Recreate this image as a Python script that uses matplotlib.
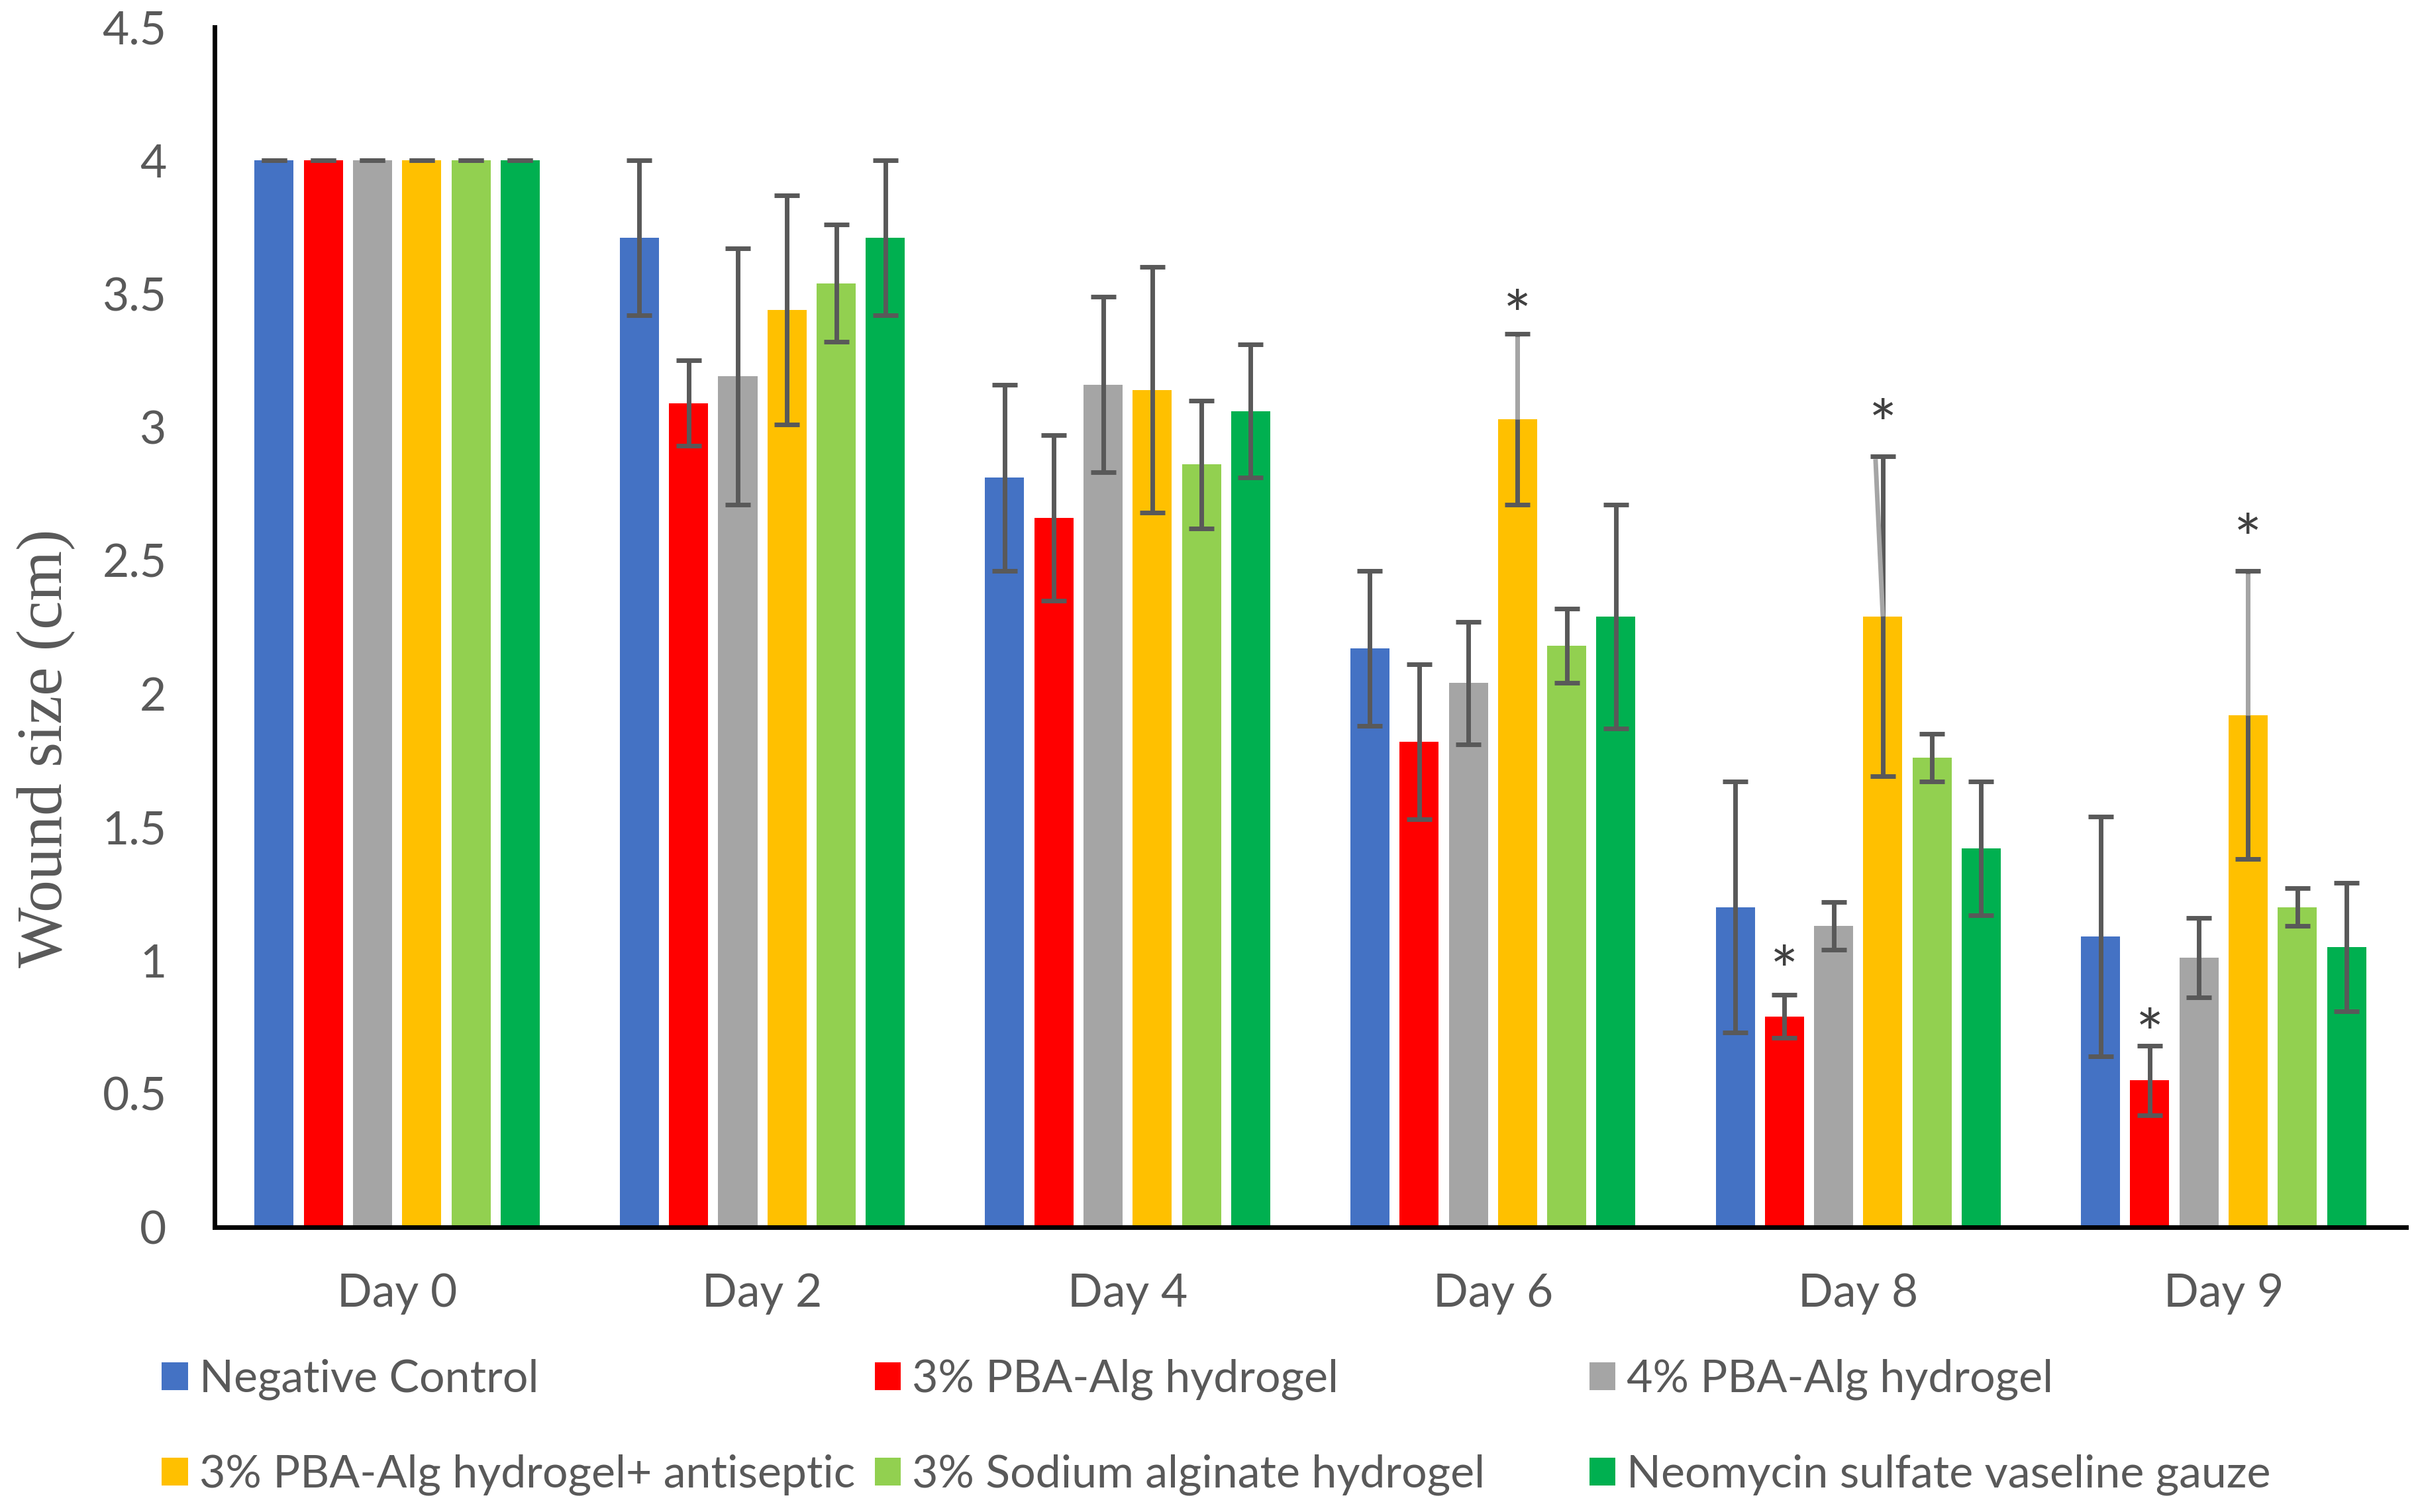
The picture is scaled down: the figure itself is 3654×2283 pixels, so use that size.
import numpy as np
import matplotlib.pyplot as plt
from matplotlib import transforms

plt.rcParams['font.family'] = ['Lato', 'DejaVu Sans']

days = ['Day 0', 'Day 2', 'Day 4', 'Day 6', 'Day 8', 'Day 9']
series = ['Negative Control', '3% PBA-Alg hydrogel', '4% PBA-Alg hydrogel',
          '3% PBA-Alg hydrogel+ antiseptic', '3% Sodium alginate hydrogel',
          'Neomycin sulfate vaseline gauze']
colors = ['#4472C4', '#FF0000', '#A5A5A5', '#FFC000', '#92D050', '#00B050']

neg_ctrl = [4.0, 3.71, 2.81, 2.17, 1.20, 1.09]
neg_ctrl_err = [0, 0.29, 0.35, 0.29, 0.47, 0.45]
pba3 = [4.0, 3.09, 2.66, 1.82, 0.79, 0.55]
pba3_err = [0, 0.16, 0.31, 0.29, 0.08, 0.13]
pba4 = [4.0, 3.19, 3.16, 2.04, 1.13, 1.01]
pba4_err = [0, 0.48, 0.33, 0.23, 0.09, 0.15]
pba3_anti = [4.0, 3.44, 3.14, 3.03, 2.29, 1.92]
pba3_anti_err = [0, 0.43, 0.46, 0.32, 0.60, 0.54]
sod_alg = [4.0, 3.54, 2.86, 2.18, 1.76, 1.20]
sod_alg_err = [0, 0.22, 0.24, 0.14, 0.09, 0.07]
neomycin = [4.0, 3.71, 3.06, 2.29, 1.42, 1.05]
neomycin_err = [0, 0.29, 0.25, 0.42, 0.25, 0.24]

values = [neg_ctrl, pba3, pba4, pba3_anti, sod_alg, neomycin]
errors = [neg_ctrl_err, pba3_err, pba4_err, pba3_anti_err, sod_alg_err, neomycin_err]

# significance stars: (day index, series index, height of star centre)
star_day = [3, 4, 4, 5, 5]
star_series = [3, 1, 3, 1, 3]
star_y = [3.48, 1.02, 3.07, 0.785, 2.64]

text_col = '#595959'
err_col = '#595959'

fig = plt.figure(figsize=(36.55, 22.83), dpi=100)
ax = fig.add_axes([0.0886, 0.1885, 0.9054, 0.7935])

pitch = 0.1347
width = 0.107
x = np.arange(len(days))
handles = []
for j in range(len(series)):
    xs = x + (j - 2.5) * pitch
    b = ax.bar(xs, values[j], width, color=colors[j], label=series[j], zorder=2)
    handles.append(b)
    ax.errorbar(xs, values[j], yerr=errors[j], fmt='none', ecolor=err_col,
                elinewidth=5, capsize=14, capthick=5, zorder=3)

# light grey strokes over the upper error bars of the starred yellow bars
for d, s in zip(star_day, star_series):
    if s != 3:
        continue
    xc = d + (s - 2.5) * pitch
    top = values[s][d] + errors[s][d]
    shift = -0.02 if d == 4 else 0
    ax.plot([xc, xc + shift], [values[s][d], top - 0.01], color='#A5A5A5',
            lw=5, zorder=4, solid_capstyle='butt')

star_fs = 72
star_tr = transforms.offset_copy(ax.transData, fig=fig, x=0, y=-0.6 * star_fs,
                                 units='points')
for d, s, yy in zip(star_day, star_series, star_y):
    ax.text(d + (s - 2.5) * pitch, yy, '*', ha='center', va='baseline',
            fontsize=star_fs, color='#404040', zorder=5, transform=star_tr)

ax.set_xlim(-0.5, 5.5)
ax.set_ylim(0, 4.5)
yt = np.arange(0, 4.51, 0.5)
ax.set_yticks(yt)
ax.set_yticklabels([f'{v:g}' for v in yt])
ax.set_xticks(x)
ax.set_xticklabels(days)
ax.tick_params(axis='both', length=0, labelsize=50, labelcolor=text_col)
ax.tick_params(axis='y', pad=52)
ax.tick_params(axis='x', pad=50)

for sp in ['top', 'right']:
    ax.spines[sp].set_visible(False)
for sp in ['left', 'bottom']:
    ax.spines[sp].set_color('black')
    ax.spines[sp].set_linewidth(5)

fig.text(0.0192, 0.505, 'Wound size (cm)', rotation=90, ha='center', va='center',
         fontsize=70, color=text_col, family='Liberation Serif')

# legend: three columns, two rows
col_x = [0.0668, 0.3614, 0.6565]
for c in range(3):
    idx = [c, c + 3]
    leg = fig.legend([handles[i] for i in idx], [series[i] for i in idx],
                     loc='center left', bbox_to_anchor=(col_x[c], 0.0560),
                     frameon=False, fontsize=49, handlelength=0.58,
                     handleheight=0.58, handletextpad=0.25, labelspacing=1.2,
                     borderpad=0, borderaxespad=0)
    for t in leg.get_texts():
        t.set_color(text_col)

fig.savefig('out.png', dpi=100, facecolor='white')
